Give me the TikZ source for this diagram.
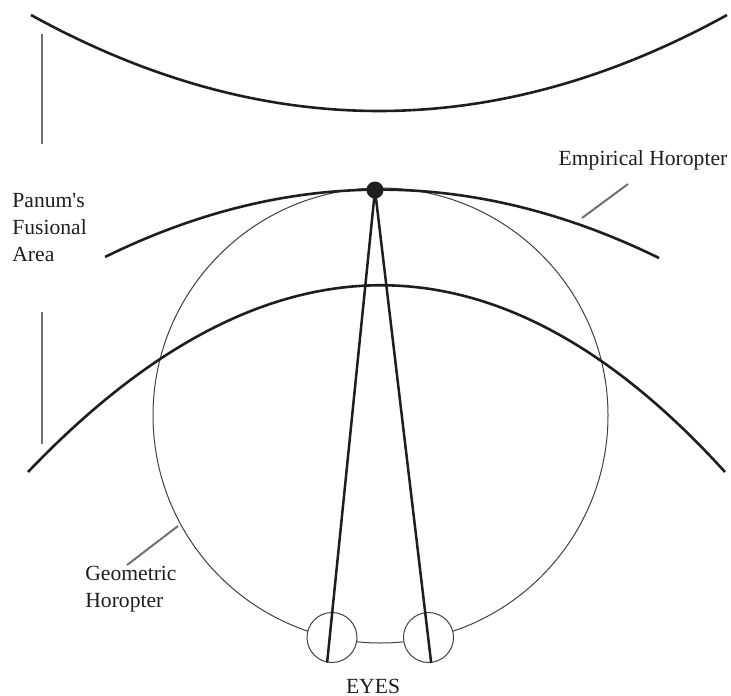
\documentclass[tikz,border=0pt]{standalone}
\usepackage{fontspec}
\setmainfont{Liberation Serif}
\usetikzlibrary{positioning}
\definecolor{cink}{HTML}{1E1E1E}
\definecolor{cgrey}{HTML}{707070}

\begin{document}
\begin{tikzpicture}[x=0.5pt,y=-0.5pt,
  font=\fontsize{10.8}{13.5}\selectfont,
  horo/.style={draw=cink,line width=1.3pt},
  ray/.style={draw=cink,line width=1.25pt},
  lead/.style={draw=cgrey,line width=1pt},
  bar/.style={draw=cgrey,line width=1.3pt},
  eye/.style={circle,draw=cink!85,line width=0.5pt,fill=white,
              minimum size=25pt,inner sep=0pt},
  lbl/.style={align=left,inner sep=0pt,text=cink}]
  \useasboundingbox (0,0) rectangle (731,695);
  % Vieth-Mueller circle
  \node[circle,draw=cink!85,line width=0.5pt,minimum size=227.5pt,inner sep=0pt] (geo) at (380.5,415.5) {};
  % horopter curves
  \draw[horo] (31,15) .. controls (263,143) and (495,143) .. (727,15);
  \draw[horo] (105,257) .. controls (288,167) and (473,167) .. (659,258);
  \draw[horo] (28,472) .. controls (266,223) and (499,223) .. (725,472);
  % eyes and visual axes
  \node[eye] (leye) at (332,637.5) {};
  \node[eye] (reye) at (428.5,637.5) {};
  \node[circle,fill=cink,minimum size=8.5pt,inner sep=0pt] (fix) at (375,190) {};
  \draw[ray] (fix.center) -- (leye.-101);
  \draw[ray] (fix.center) -- (reye.-84);
  % Panum's area limits
  \coordinate (pa1) at (42,34);  \coordinate (pa2) at (42,144);
  \coordinate (pb1) at (42,312); \coordinate (pb2) at (42,444);
  \draw[bar] (pa1) -- (pa2);
  \draw[bar] (pb1) -- (pb2);
  % labels
  \node[lbl,anchor=north west] (panum) at (12,193) {Panum\textquotesingle s\\Fusional\\Area};
  \node[lbl] (emp) at (643,160) {Empirical Horopter};
  \node[lbl,anchor=north west] (geom) at (85,566) {Geometric\\Horopter};
  \node[lbl] (eyes) at (373,686) {EYES};
  \coordinate (emp1) at (582,218); \coordinate (emp2) at (628,184);
  \coordinate (geo1) at (127,565); \coordinate (geo2) at (178,526);
  \draw[lead] (emp1) -- (emp2);
  \draw[lead] (geo1) -- (geo2);
\end{tikzpicture}
\end{document}
